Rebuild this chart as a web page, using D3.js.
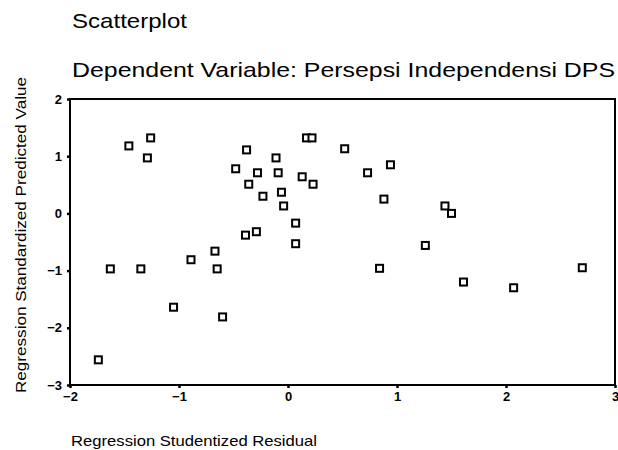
<!DOCTYPE html>
<html>
<head>
<meta charset="utf-8">
<script src="https://cdn.jsdelivr.net/npm/d3@7"></script>
<style>
  body { margin: 0; background: #fff; }
  svg { display: block; font-family: "Liberation Sans", Arial, sans-serif; }
</style>
</head>
<body>
<div id="chart"></div>
<script>
// Residual (x) vs standardized predicted value (y)
const residuals = [-1.74, -1.63, -1.35, -1.46, -1.26, -1.29, -1.05, -0.89, -0.67, -0.65,
  -0.60, -0.48, -0.38, -0.36, -0.39, -0.29, -0.28, -0.23, -0.11, -0.09,
  -0.06, -0.04, 0.07, 0.07, 0.13, 0.17, 0.22, 0.23, 0.52, 0.73,
  0.94, 0.88, 0.84, 1.26, 1.44, 1.50, 1.61, 2.07, 2.70];
const predicted = [-2.56, -0.97, -0.97, 1.18, 1.32, 0.97, -1.64, -0.81, -0.66, -0.97,
  -1.81, 0.78, 1.11, 0.51, -0.38, -0.32, 0.71, 0.30, 0.97, 0.71,
  0.37, 0.13, -0.17, -0.53, 0.64, 1.32, 1.32, 0.51, 1.13, 0.71,
  0.85, 0.25, -0.96, -0.56, 0.13, 0.00, -1.20, -1.30, -0.95];
const xTicks = [-2, -1, 0, 1, 2, 3];
const yTicks = [-3, -2, -1, 0, 1, 2];

const width = 618, height = 450;
const margin = { top: 99, right: 3, bottom: 65, left: 70 };

const svg = d3.select("#chart").append("svg")
  .attr("width", width)
  .attr("height", height);

const x = d3.scaleLinear().domain([-2, 3]).range([margin.left, width - margin.right]);
const y = d3.scaleLinear().domain([-3, 2]).range([height - margin.bottom, margin.top]);

// titles (scan is a bit wider than plain Arial, so stretch with textLength)
svg.append("text")
  .attr("x", 72).attr("y", 28)
  .attr("textLength", 115)
  .attr("lengthAdjust", "spacingAndGlyphs")
  .style("font-size", "21px")
  .text("Scatterplot");

svg.append("text")
  .attr("x", 72).attr("y", 77)
  .attr("textLength", 543)
  .attr("lengthAdjust", "spacingAndGlyphs")
  .style("font-size", "21px")
  .text("Dependent Variable: Persepsi Independensi DPS");

// frame
svg.append("rect")
  .attr("x", x(-2)).attr("y", y(2))
  .attr("width", x(3) - x(-2))
  .attr("height", y(-3) - y(2))
  .attr("fill", "none")
  .attr("stroke", "#000")
  .attr("stroke-width", 2);

// axes
const xAxis = svg.append("g")
  .attr("transform", `translate(0,${y(-3)})`)
  .call(d3.axisBottom(x).tickValues(xTicks).tickSize(3).tickPadding(4).tickFormat(d3.format("d")));
const yAxis = svg.append("g")
  .attr("transform", `translate(${x(-2)},0)`)
  .call(d3.axisLeft(y).tickValues(yTicks).tickSize(3).tickPadding(5).tickFormat(d3.format("d")));

[xAxis, yAxis].forEach(a => {
  a.select(".domain").remove();
  a.selectAll(".tick line").attr("stroke", "#000").attr("stroke-width", 2.5);
  a.selectAll("text")
    .style("font-size", "13px")
    .style("font-weight", "bold")
    .attr("fill", "#000");
});

// points
const pts = residuals.map((r, i) => ({ r, p: predicted[i] }));
svg.append("g").selectAll("rect")
  .data(pts)
  .enter().append("rect")
  .attr("x", d => x(d.r) - 3.5)
  .attr("y", d => y(d.p) - 3.5)
  .attr("width", 7)
  .attr("height", 7)
  .attr("fill", "#fff")
  .attr("stroke", "#000")
  .attr("stroke-width", 2);

// axis labels
svg.append("text")
  .attr("x", 71).attr("y", 446)
  .attr("textLength", 246)
  .attr("lengthAdjust", "spacingAndGlyphs")
  .style("font-size", "15px")
  .text("Regression Studentized Residual");

svg.append("text")
  .attr("transform", "translate(26,393) rotate(-90)")
  .attr("textLength", 316)
  .attr("lengthAdjust", "spacingAndGlyphs")
  .style("font-size", "14.5px")
  .text("Regression Standardized Predicted Value");
</script>
</body>
</html>
